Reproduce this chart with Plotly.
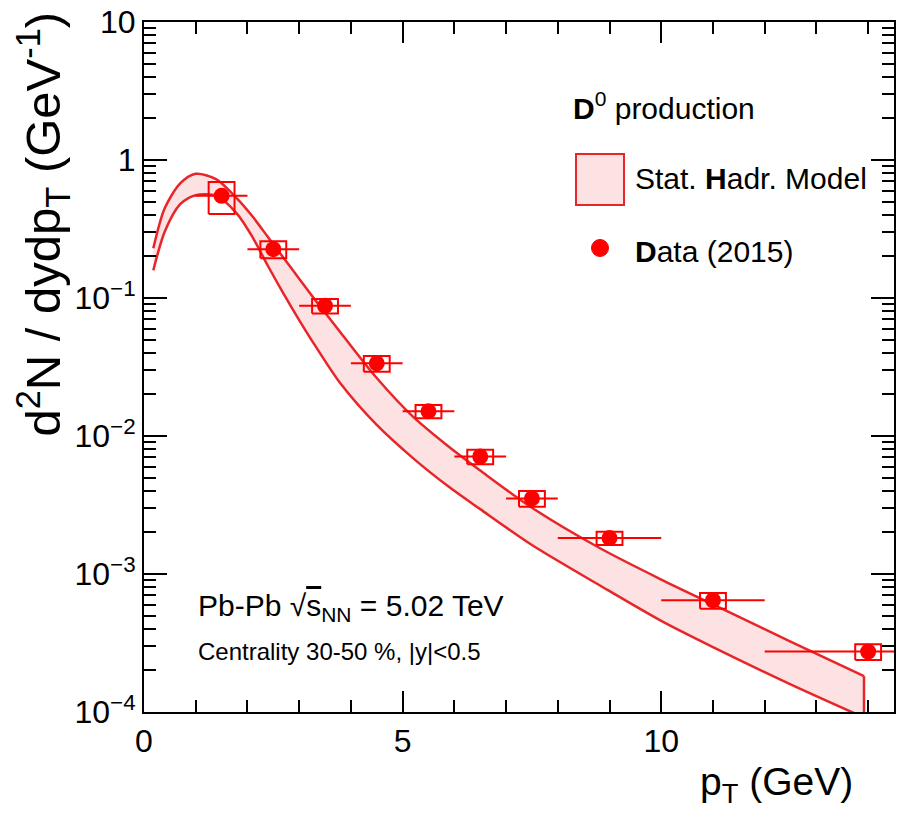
import plotly.graph_objects as go

# ---- data ----
pt = [1.5, 2.5, 3.5, 4.5, 5.5, 6.5, 7.5, 9.0, 11.0, 14.0]
pt_halfwidth = [0.5, 0.5, 0.5, 0.5, 0.5, 0.5, 0.5, 1.0, 1.0, 2.0]
yield_vals = [0.55, 0.226, 0.0878, 0.0336, 0.0151, 0.0071, 0.00353, 0.00182, 0.000645, 0.000274]
sys_frac = [0.26, 0.14, 0.12, 0.13, 0.11, 0.12, 0.13, 0.11, 0.13, 0.13]
sys_box_halfwidth = 0.25

# Statistical hadronization model band (log10 of the yield)
band_pt = [0.18, 0.4, 0.7, 1.0, 1.4, 1.8, 2.1, 2.4, 2.7, 3.0, 3.3, 3.8, 4.5, 5.2, 5.9,
           6.5, 7.5, 8.8, 10.0, 11.0, 12.5, 13.92]
band_upper_log10 = [-0.64, -0.35, -0.17, -0.10, -0.14, -0.28, -0.41, -0.56, -0.71, -0.86, -1.01,
                    -1.25, -1.58, -1.86, -2.08, -2.25, -2.52, -2.81, -3.04, -3.22, -3.49, -3.74]
band_lower_log10 = [-0.80, -0.52, -0.32, -0.255, -0.26, -0.39, -0.56, -0.77, -0.97, -1.16, -1.34,
                    -1.62, -1.92, -2.16, -2.37, -2.53, -2.79, -3.08, -3.34, -3.53, -3.80, -4.04]
band_upper = [10 ** v for v in band_upper_log10]
band_lower = [10 ** v for v in band_lower_log10]

y_tickvals = [1e-4, 1e-3, 1e-2, 1e-1, 1, 10]
y_ticktext = ["10<sup>\u22124</sup>", "10<sup>\u22123</sup>", "10<sup>\u22122</sup>",
              "10<sup>\u22121</sup>", "1", "10"]
x_tickvals = [0, 5, 10]
x_ticktext = ["0", "5", "10"]

RED = "#ff0000"
BAND_LINE = "#e8262a"
BAND_FILL = "rgba(252,226,226,1)"
FONT = "Liberation Sans, Arial, Helvetica, sans-serif"

fig = go.Figure()

# model band
fig.add_trace(go.Scatter(x=band_pt, y=band_lower, mode="lines",
                         line=dict(color=BAND_LINE, width=2.5, shape="spline", smoothing=0.8),
                         showlegend=False, hoverinfo="skip"))
fig.add_trace(go.Scatter(x=band_pt, y=band_upper, mode="lines", fill="tonexty",
                         fillcolor=BAND_FILL,
                         line=dict(color=BAND_LINE, width=2.5, shape="spline", smoothing=0.8),
                         showlegend=False, hoverinfo="skip"))
fig.add_trace(go.Scatter(x=[band_pt[-1], band_pt[-1]], y=[band_upper[-1], band_lower[-1]],
                         mode="lines", line=dict(color=BAND_LINE, width=2.5),
                         showlegend=False, hoverinfo="skip"))

# systematic boxes
bx, by = [], []
for x, y, s in zip(pt, yield_vals, sys_frac):
    x0, x1 = x - sys_box_halfwidth, x + sys_box_halfwidth
    y0, y1 = y * (1 - s), y * (1 + s)
    bx += [x0, x1, x1, x0, x0, None]
    by += [y0, y0, y1, y1, y0, None]
fig.add_trace(go.Scatter(x=bx, y=by, mode="lines", line=dict(color=RED, width=2),
                         showlegend=False, hoverinfo="skip"))

# data points
fig.add_trace(go.Scatter(x=pt, y=yield_vals, mode="markers",
                         marker=dict(color=RED, size=16, symbol="circle"),
                         error_x=dict(type="data", array=pt_halfwidth, color=RED,
                                      thickness=2, width=0),
                         showlegend=False))

# manual legend / labels in paper coordinates
L, R, T, B = 144, 894, 22, 712
def px(xp):
    return (xp - L) / (R - L)
def py(yp):
    return 1 - (yp - T) / (B - T)

fig.add_shape(type="rect", xref="paper", yref="paper",
              x0=px(576), x1=px(624), y0=py(205), y1=py(154),
              line=dict(color=BAND_LINE, width=2), fillcolor=BAND_FILL)
fig.add_shape(type="circle", xref="paper", yref="paper",
              x0=px(591.5), x1=px(608.5), y0=py(256.5), y1=py(239.5),
              line=dict(color=RED, width=1), fillcolor=RED)

ann_common = dict(xref="paper", yref="paper", showarrow=False, xanchor="left", yanchor="middle")
fig.add_annotation(x=px(571), y=py(106), text="<b>D</b><sup>0</sup> production",
                   font=dict(family=FONT, size=30, color="black"), **ann_common)
fig.add_annotation(x=px(633), y=py(179), text="Stat. <b>H</b>adr. Model",
                   font=dict(family=FONT, size=30, color="black"), **ann_common)
fig.add_annotation(x=px(633), y=py(251), text="<b>D</b>ata (2015)",
                   font=dict(family=FONT, size=30, color="black"), **ann_common)

fig.add_annotation(x=px(196), y=py(607),
                   text="Pb-Pb \u221a<span style='text-decoration:overline'>s</span><sub>NN</sub> = 5.02 TeV",
                   font=dict(family=FONT, size=30, color="black"), **ann_common)
fig.add_annotation(x=px(196), y=py(651), text="Centrality 30-50 %, |y|<0.5",
                   font=dict(family=FONT, size=24, color="black"), **ann_common)

# axis titles
fig.add_annotation(x=px(855), y=py(758), xanchor="right", yanchor="top",
                   xref="paper", yref="paper", showarrow=False,
                   text="p<sub>T</sub> (GeV)", font=dict(family=FONT, size=39, color="black"))
fig.add_annotation(x=px(43), y=py(10), xanchor="center", yanchor="top",
                   xref="paper", yref="paper", showarrow=False, textangle=-90,
                   text="d<sup>2</sup>N / dydp<sub>T</sub> (GeV<sup>-1</sup>)",
                   font=dict(family=FONT, size=49, color="black"))

fig.update_layout(
    width=902, height=825,
    margin=dict(l=L, r=902 - R, t=T, b=825 - B, autoexpand=False),
    paper_bgcolor="white", plot_bgcolor="white",
    showlegend=False,
    xaxis=dict(range=[0, 14.5], showgrid=False, zeroline=False, automargin=False,
               showline=True, linecolor="black", linewidth=2, mirror="allticks",
               ticks="inside", ticklen=21, tickwidth=2, tickcolor="black",
               tickvals=x_tickvals, ticktext=x_ticktext,
               tickfont=dict(family=FONT, size=32, color="black"),
               minor=dict(dtick=1, ticks="inside", ticklen=12, tickwidth=2,
                          tickcolor="black", showgrid=False)),
    yaxis=dict(type="log", range=[-4, 1], showgrid=False, zeroline=False, automargin=False,
               showline=True, linecolor="black", linewidth=2, mirror="allticks",
               ticks="inside", ticklen=23, tickwidth=2, tickcolor="black",
               tickvals=y_tickvals, ticktext=y_ticktext,
               tickfont=dict(family=FONT, size=32, color="black"),
               minor=dict(dtick="D1", ticks="inside", ticklen=12, tickwidth=2,
                          tickcolor="black", showgrid=False)),
)

fig.write_html("out.html", config={"displayModeBar": False},
               post_script="document.body.style.margin='0px';")
